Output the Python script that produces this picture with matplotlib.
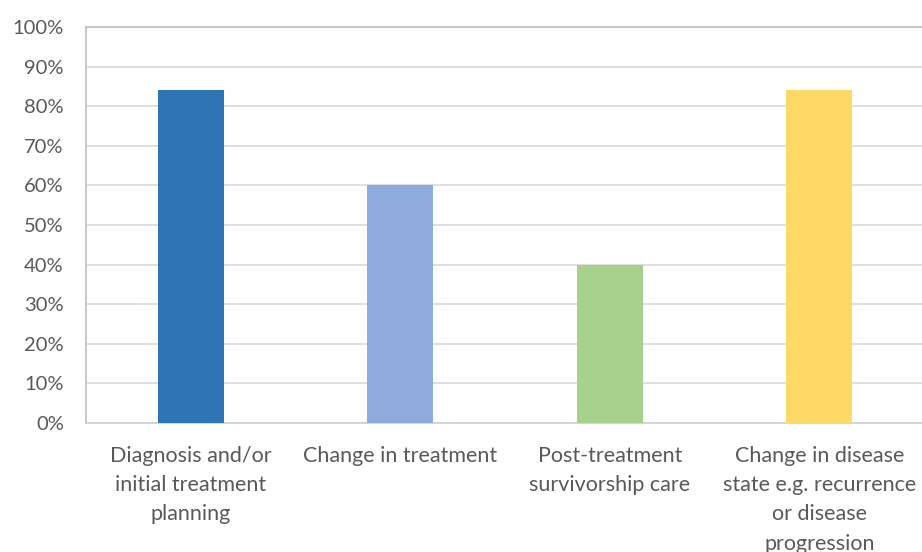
import matplotlib.pyplot as plt
from matplotlib.ticker import PercentFormatter

categories = ['Diagnosis and/or\ninitial treatment\nplanning',
              'Change in treatment',
              'Post-treatment\nsurvivorship care',
              'Change in disease\nstate e.g. recurrence\nor disease\nprogression']
values = [0.84, 0.60, 0.40, 0.84]
colors = ['#2E75B6', '#8FAADC', '#A9D18E', '#FFD966']
yticks = [i / 10 for i in range(11)]

plt.rcParams['font.family'] = ['Lato', 'DejaVu Sans']
text_color = '#595959'

fig = plt.figure(figsize=(9.22, 5.52), dpi=100)
ax = fig.add_axes([86 / 922, 1 - 423 / 552, 838 / 922, 396 / 552])

x = range(len(categories))
ax.bar(x, values, width=0.315, color=colors, zorder=3)

ax.set_xlim(-0.5, len(categories) - 0.5)
ax.set_ylim(0, 1)
ax.set_yticks(yticks)
ax.yaxis.set_major_formatter(PercentFormatter(1.0, decimals=0))
ax.set_xticks(list(x))
ax.set_xticklabels(categories, linespacing=1.58, fontsize=15.5)

ax.grid(axis='y', color='#d9d9d9', linewidth=1.2, zorder=0)
ax.tick_params(axis='both', length=0, colors=text_color)
ax.tick_params(axis='y', pad=16, labelsize=14.5)
ax.tick_params(axis='x', pad=16.5)

for side in ['left', 'top']:
    ax.spines[side].set_color('#bfbfbf')
    ax.spines[side].set_linewidth(1.2)
ax.spines['bottom'].set_color('#d0d0d0')
ax.spines['bottom'].set_linewidth(1.2)
ax.spines['right'].set_visible(False)

plt.savefig('out.png', dpi=100)
